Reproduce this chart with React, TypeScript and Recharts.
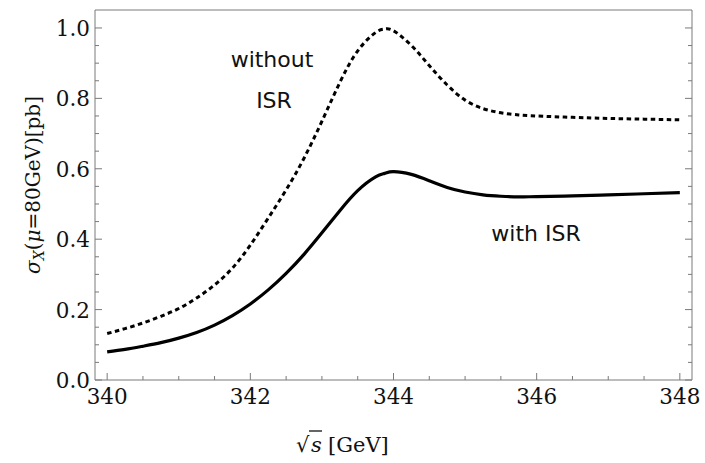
import { LineChart, Line, XAxis, YAxis } from "recharts"

const energy = [
  340, 340.25, 340.5, 340.75, 341, 341.25, 341.5, 341.75, 342, 342.25, 342.5,
  342.75, 343, 343.25, 343.5, 343.75, 343.875, 344, 344.25, 344.5, 344.75, 345,
  345.25, 345.5, 345.75, 346, 346.5, 347, 347.5, 348,
]
const withISR = [
  0.08, 0.087, 0.096, 0.106, 0.119, 0.135, 0.156, 0.183, 0.216, 0.256, 0.303,
  0.357, 0.418, 0.481, 0.538, 0.577, 0.587, 0.592, 0.584, 0.566, 0.547, 0.534,
  0.526, 0.522, 0.52, 0.521, 0.523, 0.526, 0.529, 0.532,
]
const withoutISR = [
  0.132, 0.146, 0.162, 0.181, 0.203, 0.233, 0.27, 0.318, 0.383, 0.46, 0.54,
  0.63, 0.735, 0.845, 0.935, 0.987, 0.997, 0.992, 0.95, 0.893, 0.838, 0.795,
  0.771, 0.759, 0.753, 0.75, 0.746, 0.743, 0.741, 0.739,
]

const xTicks = [340, 340.5, 341, 341.5, 342, 342.5, 343, 343.5, 344, 344.5, 345, 345.5, 346, 346.5, 347, 347.5, 348]
const yTicks = [0, 0.05, 0.1, 0.15, 0.2, 0.25, 0.3, 0.35, 0.4, 0.45, 0.5, 0.55, 0.6, 0.65, 0.7, 0.75, 0.8, 0.85, 0.9, 0.95, 1.0]

const data = energy.map((e, i) => ({ e, withISR: withISR[i], withoutISR: withoutISR[i] }))

const frame = "#7a7a7a"
const serif = "'DejaVu Serif', serif"
const sans = "'DejaVu Sans', sans-serif"

const isMajorX = (v: number) => Math.abs(v / 2 - Math.round(v / 2)) < 1e-6
const isMajorY = (v: number) => Math.abs(v * 5 - Math.round(v * 5)) < 1e-6

function BottomTick(props: any) {
  const { x, y, payload } = props
  const major = isMajorX(payload.value)
  return (
    <g>
      <line x1={x} x2={x} y1={y} y2={y - (major ? 7 : 4)} stroke={frame} />
      {major && (
        <text x={x} y={y + 24} textAnchor="middle" fontFamily={serif} fontSize={21.5} fill="#111">
          {payload.value}
        </text>
      )}
    </g>
  )
}

function TopTick(props: any) {
  const { x, y, payload } = props
  const major = isMajorX(payload.value)
  return <line x1={x} x2={x} y1={y} y2={y + (major ? 7 : 4)} stroke={frame} />
}

function LeftTick(props: any) {
  const { x, y, payload } = props
  const major = isMajorY(payload.value)
  return (
    <g>
      <line x1={x} x2={x + (major ? 7 : 4)} y1={y} y2={y} stroke={frame} />
      {major && (
        <text x={x - 5} y={y + 8} textAnchor="end" fontFamily={serif} fontSize={21.5} fill="#111">
          {payload.value.toFixed(1)}
        </text>
      )}
    </g>
  )
}

function RightTick(props: any) {
  const { x, y, payload } = props
  const major = isMajorY(payload.value)
  return <line x1={x} x2={x - (major ? 7 : 4)} y1={y} y2={y} stroke={frame} />
}

export default function App() {
  return (
    <div style={{ position: "absolute", left: 0, top: 0, width: 705, height: 463, background: "#fff" }}>
      <LineChart width={705} height={463} data={data} margin={{ top: 0, right: 0, bottom: 0, left: 0 }}>
        <XAxis
          dataKey="e"
          type="number"
          domain={[339.83, 348.17]}
          allowDataOverflow
          ticks={xTicks}
          height={83}
          tickSize={0}
          tickMargin={0}
          tickLine={false}
          axisLine={{ stroke: frame }}
          tick={<BottomTick />}
          interval={0}
        />
        <XAxis
          xAxisId="top"
          orientation="top"
          type="number"
          domain={[339.83, 348.17]}
          allowDataOverflow
          ticks={xTicks}
          height={10}
          tickSize={0}
          tickMargin={0}
          tickLine={false}
          axisLine={{ stroke: frame }}
          tick={<TopTick />}
          interval={0}
        />
        <YAxis
          type="number"
          domain={[0, 1.051]}
          allowDataOverflow
          ticks={yTicks}
          width={95}
          tickSize={0}
          tickMargin={0}
          tickLine={false}
          axisLine={{ stroke: frame }}
          tick={<LeftTick />}
          interval={0}
        />
        <YAxis
          yAxisId="right"
          orientation="right"
          type="number"
          domain={[0, 1.051]}
          allowDataOverflow
          ticks={yTicks}
          width={13}
          tickSize={0}
          tickMargin={0}
          tickLine={false}
          axisLine={{ stroke: frame }}
          tick={<RightTick />}
          interval={0}
        />
        <Line
          type="natural"
          dataKey="withoutISR"
          stroke="#000"
          strokeWidth={3}
          strokeDasharray="4.5 3.5"
          dot={false}
          isAnimationActive={false}
        />
        <Line
          type="natural"
          dataKey="withISR"
          stroke="#000"
          strokeWidth={3.2}
          dot={false}
          isAnimationActive={false}
        />
      </LineChart>
      <svg
        width={705}
        height={463}
        style={{ position: "absolute", left: 0, top: 0, pointerEvents: "none" }}
      >
        <text x={272} y={67} textAnchor="middle" fontFamily={sans} fontSize={22} fill="#111">without</text>
        <text x={274} y={108} textAnchor="middle" fontFamily={sans} fontSize={22} fill="#111">ISR</text>
        <text x={536} y={241} textAnchor="middle" fontFamily={sans} fontSize={22} fill="#111">with ISR</text>
        <text
          x={40}
          y={185}
          transform="rotate(-90 40 185)"
          textAnchor="middle"
          fontFamily={serif}
          fontSize={20}
          fill="#111"
        >
          <tspan fontStyle="italic">σ</tspan>
          <tspan fontStyle="italic" fontSize={14} dy={4}>X</tspan>
          <tspan dy={-4}>(</tspan>
          <tspan fontStyle="italic">μ</tspan>
          <tspan>=80GeV)[pb]</tspan>
        </text>
        <g fontFamily={serif} fontSize={21} fill="#111">
          <text x={296} y={452}>√</text>
          <line x1={309} x2={322} y1={431} y2={431} stroke="#111" strokeWidth={1.3} />
          <text x={311} y={452} fontStyle="italic">s</text>
          <text x={328} y={452}>[GeV]</text>
        </g>
      </svg>
    </div>
  )
}
